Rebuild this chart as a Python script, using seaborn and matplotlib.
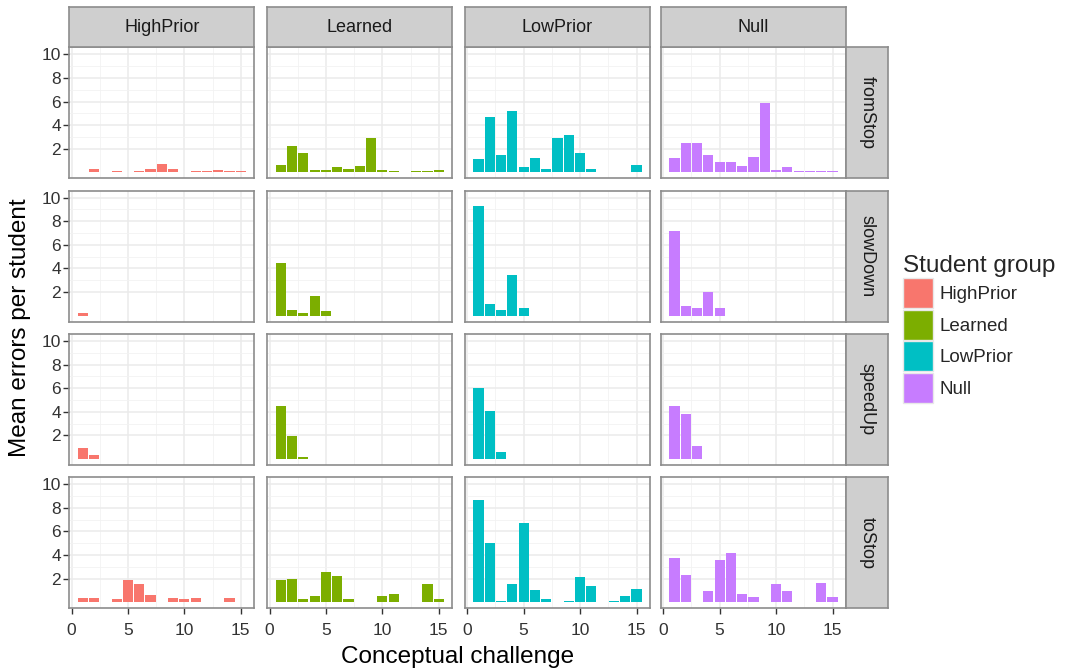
import matplotlib
matplotlib.use("Agg")
import matplotlib.pyplot as plt
from matplotlib.patches import Patch
import seaborn as sns
import pandas as pd
import numpy as np

# ---------------- data ----------------
challenge = list(range(1, 16))
groups = ["HighPrior", "Learned", "LowPrior", "Null"]
actions = ["fromStop", "slowDown", "speedUp", "toStop"]
palette = {"HighPrior": "#F8766D", "Learned": "#7CAE00", "LowPrior": "#00BFC4", "Null": "#C77CFF"}

highprior_fromStop = [0, 0.33, 0, 0.1, 0, 0.1, 0.28, 0.75, 0.33, 0, 0.1, 0.1, 0.22, 0.1, 0.1]
highprior_slowDown = [0.22, 0, 0, 0, 0, 0, 0, 0, 0, 0, 0, 0, 0, 0, 0]
highprior_speedUp = [0.9, 0.37, 0, 0, 0, 0, 0, 0, 0, 0, 0, 0, 0, 0, 0]
highprior_toStop = [0.39, 0.39, 0, 0.28, 1.92, 1.56, 0.64, 0, 0.39, 0.28, 0.39, 0, 0, 0.39, 0]

learned_fromStop = [0.64, 2.25, 1.67, 0.19, 0.19, 0.44, 0.33, 0.53, 2.94, 0.19, 0.1, 0, 0.1, 0.1, 0.19]
learned_slowDown = [4.43, 0.5, 0.19, 1.67, 0.44, 0, 0, 0, 0, 0, 0, 0, 0, 0, 0]
learned_speedUp = [4.48, 1.97, 0.14, 0, 0, 0, 0, 0, 0, 0, 0, 0, 0, 0, 0]
learned_toStop = [1.87, 2.0, 0.28, 0.53, 2.56, 2.23, 0.28, 0, 0, 0.5, 0.72, 0, 0, 1.53, 0.28]

lowprior_fromStop = [1.11, 4.72, 1.44, 5.22, 0.42, 1.22, 0.28, 2.92, 3.14, 1.67, 0.33, 0, 0, 0, 0.64]
lowprior_slowDown = [9.33, 1.0, 0.5, 3.48, 0.64, 0, 0, 0, 0, 0, 0, 0, 0, 0, 0]
lowprior_speedUp = [6.0, 4.03, 0.56, 0, 0, 0, 0, 0, 0, 0, 0, 0, 0, 0, 0]
lowprior_toStop = [8.65, 5.03, 0.14, 1.56, 6.7, 1.08, 0.28, 0, 0.14, 2.14, 1.42, 0, 0.14, 0.53, 1.11]

null_fromStop = [1.22, 2.47, 2.47, 1.44, 0.89, 0.89, 0.53, 1.33, 5.92, 0.19, 0.44, 0.1, 0.1, 0.1, 0.1]
null_slowDown = [7.16, 0.86, 0.64, 2.0, 0.64, 0, 0, 0, 0, 0, 0, 0, 0, 0, 0]
null_speedUp = [4.5, 3.8, 1.13, 0, 0, 0, 0, 0, 0, 0, 0, 0, 0, 0, 0]
null_toStop = [3.75, 2.34, 0, 0.95, 3.62, 4.2, 0.72, 0.42, 0, 1.56, 0.95, 0, 0, 1.67, 0.42]

y_ticks = [2, 4, 6, 8, 10]
x_ticks = [0, 5, 10, 15]

series = {
    ("HighPrior", "fromStop"): highprior_fromStop,
    ("HighPrior", "slowDown"): highprior_slowDown,
    ("HighPrior", "speedUp"): highprior_speedUp,
    ("HighPrior", "toStop"): highprior_toStop,
    ("Learned", "fromStop"): learned_fromStop,
    ("Learned", "slowDown"): learned_slowDown,
    ("Learned", "speedUp"): learned_speedUp,
    ("Learned", "toStop"): learned_toStop,
    ("LowPrior", "fromStop"): lowprior_fromStop,
    ("LowPrior", "slowDown"): lowprior_slowDown,
    ("LowPrior", "speedUp"): lowprior_speedUp,
    ("LowPrior", "toStop"): lowprior_toStop,
    ("Null", "fromStop"): null_fromStop,
    ("Null", "slowDown"): null_slowDown,
    ("Null", "speedUp"): null_speedUp,
    ("Null", "toStop"): null_toStop,
}
rows = []
for (g, a), vals in series.items():
    for c, v in zip(challenge, vals):
        rows.append({"group": g, "action": a, "challenge": c, "errors": v})
df = pd.DataFrame(rows)

# ---------------- layout ----------------
sns.set_theme(style="white")
plt.rcParams["font.family"] = ["Liberation Sans", "DejaVu Sans"]

W, H = 1066, 671
fig = plt.figure(figsize=(W / 100, H / 100), dpi=100)
fig.patch.set_facecolor("white")


def rect(l, t, w, h):
    return [l / W, 1 - (t + h) / H, w / W, h / H]


col_left = [69.3, 267.3, 465.0, 661.0]
panel_w = 185.0
row_top = [47.3, 190.6, 333.9, 477.2]
panel_h = 131.0
border_col = "#8C8C8C"
strip_fill = "#CFCFCF"
grid_col = "#EBEBEB"

for ri, a in enumerate(actions):
    for ci, g in enumerate(groups):
        ax = fig.add_axes(rect(col_left[ci], row_top[ri], panel_w, panel_h))
        sub = df[(df["group"] == g) & (df["action"] == a)]
        sns.barplot(data=sub, x="challenge", y="errors", hue="group", palette=palette,
                    native_scale=True, width=0.9, dodge=False, errorbar=None,
                    saturation=1, legend=False, linewidth=0, ax=ax, zorder=3)
        ax.set_xlim(-0.195, 16.195)
        ax.set_ylim(-0.5, 10.6)
        ax.set_xticks(x_ticks)
        ax.set_yticks(y_ticks)
        ax.set_xticks([2.5, 7.5, 12.5], minor=True)
        ax.set_yticks([3, 5, 7, 9], minor=True)
        ax.grid(True, which="major", color=grid_col, linewidth=1.1, zorder=0)
        ax.grid(True, which="minor", color="#F2F2F2", linewidth=0.6, zorder=0)
        ax.set_axisbelow(True)
        ax.set_xlabel("")
        ax.set_ylabel("")
        for s in ax.spines.values():
            s.set_color(border_col)
            s.set_linewidth(1.2)
            s.set_visible(True)
        ax.tick_params(which="minor", length=0)
        ax.tick_params(which="major", length=4.5, width=1, color="#333333",
                       labelsize=12.5, labelcolor="#333333")
        ax.tick_params(axis="y", pad=1.5)
        ax.tick_params(axis="x", pad=6.5)
        if ci != 0:
            ax.tick_params(axis="y", length=0, labelleft=False)
        else:
            ax.tick_params(axis="y", left=True)
        if ri != len(actions) - 1:
            ax.tick_params(axis="x", length=0, labelbottom=False)
        else:
            ax.tick_params(axis="x", bottom=True)

# column strips
for ci, g in enumerate(groups):
    sax = fig.add_axes(rect(col_left[ci], 7.3, panel_w, 40.0))
    sax.set_facecolor(strip_fill)
    sax.set_xticks([]); sax.set_yticks([])
    for s in sax.spines.values():
        s.set_color(border_col); s.set_linewidth(1.2)
    sax.text(0.5, 0.5, g, ha="center", va="center", fontsize=13, color="#1A1A1A",
             transform=sax.transAxes)

# row strips
for ri, a in enumerate(actions):
    sax = fig.add_axes(rect(846.0, row_top[ri], 42.0, panel_h))
    sax.set_facecolor(strip_fill)
    sax.set_xticks([]); sax.set_yticks([])
    for s in sax.spines.values():
        s.set_color(border_col); s.set_linewidth(1.2)
    sax.text(0.5, 0.5, a, ha="center", va="center", fontsize=13, color="#1A1A1A",
             rotation=-90, transform=sax.transAxes)

# axis titles
fig.text(457.7 / W, 1 - 657 / H, "Conceptual challenge", ha="center", va="center",
         fontsize=17.5, color="black")
fig.text(20 / W, 1 - 327.3 / H, "Mean errors per student", ha="center", va="center",
         rotation=90, fontsize=17.5, color="black")

# legend
handles = [Patch(facecolor=palette[g], edgecolor="#E8E8E8", linewidth=1.0, label=g) for g in groups]
leg = fig.legend(handles=handles, title="Student group", loc="upper left",
                 bbox_to_anchor=(903 / W, 1 - 255 / H), frameon=False,
                 fontsize=13.5, title_fontsize=17.5, handlelength=1.6, handleheight=2.08,
                 handletextpad=0.35, labelspacing=0.08, borderpad=0, borderaxespad=0,
                 alignment="left")

fig.savefig("out.png", dpi=100)
